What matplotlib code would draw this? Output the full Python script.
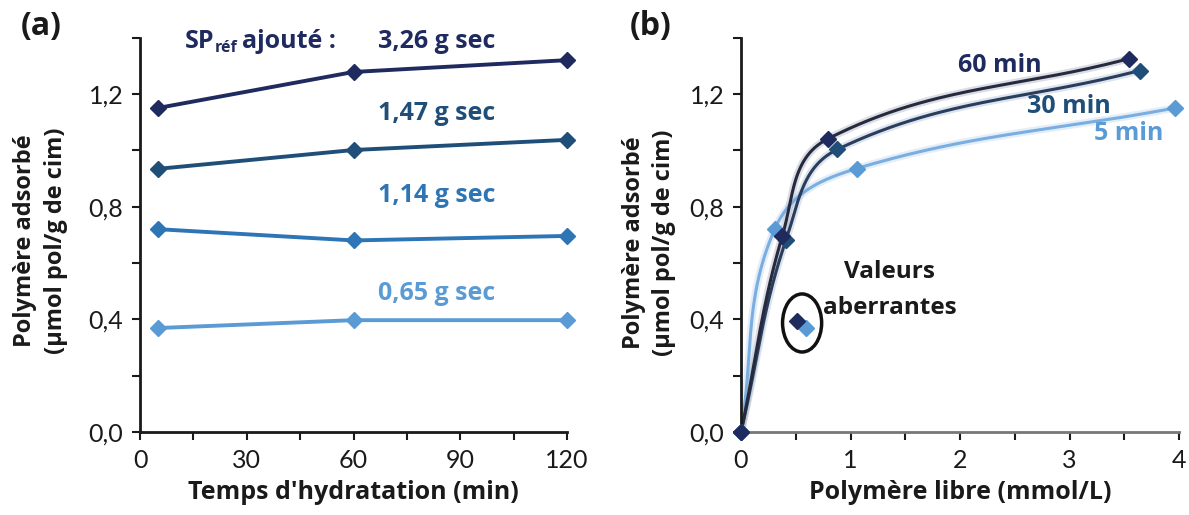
import numpy as np
import matplotlib
matplotlib.use("Agg")
import matplotlib.pyplot as plt
from matplotlib.patches import Ellipse
from matplotlib.ticker import MultipleLocator, FuncFormatter

plt.rcParams['font.family'] = ['Lato', 'DejaVu Sans']
BF = ['Open Sans', 'DejaVu Sans']   # family for the bold labels

# ---------------- data: panel (a) ----------------
temps = [5, 60, 120]
sp_labels = ["3,26 g sec", "1,47 g sec", "1,14 g sec", "0,65 g sec"]
ads_326 = [1.15, 1.278, 1.32]
ads_147 = [0.934, 1.001, 1.037]
ads_114 = [0.72, 0.68, 0.696]
ads_065 = [0.369, 0.397, 0.397]

# ---------------- data: panel (b) ----------------
curve_labels = ["60 min", "30 min", "5 min"]
libre_60 = [0.0, 0.378, 0.79, 3.54]
adsb_60 = [0.0, 0.697, 1.04, 1.325]
libre_30 = [0.0, 0.41, 0.88, 3.64]
adsb_30 = [0.0, 0.68, 1.003, 1.283]
libre_5 = [0.0, 0.31, 1.055, 3.96]
adsb_5 = [0.0, 0.722, 0.935, 1.15]
# outliers ("valeurs aberrantes")
libre_out_60 = [0.512]
adsb_out_60 = [0.394]
libre_out_5 = [0.594]
adsb_out_5 = [0.369]

C_NAVY = '#1f2a5e'
C_DBLUE = '#1f4e79'
C_MBLUE = '#2e75b6'
C_LBLUE = '#5b9bd5'
C_TXT = '#1a1a1a'
FS = 18

fig = plt.figure(figsize=(11.89, 5.15), dpi=100)
axA = fig.add_axes([140/1189, 1-432/515, (567-140)/1189, (432-37.6)/515])
axB = fig.add_axes([741/1189, 1-432/515, (1179-741)/1189, (432-37.6)/515])


def y_fmt(v, pos):
    k = v / 0.4
    if abs(k - round(k)) < 1e-6:
        return f"{v:.1f}".replace('.', ',')
    return ''


def style(ax, xmax, xstep, xlab_step):
    for s in ['top', 'right']:
        ax.spines[s].set_visible(False)
    for s in ['left', 'bottom']:
        ax.spines[s].set_linewidth(2)
        ax.spines[s].set_color(C_TXT)
    ax.set_ylim(0, 1.4)
    ax.set_xlim(0, xmax)
    ax.yaxis.set_major_locator(MultipleLocator(0.2))
    ax.yaxis.set_major_formatter(FuncFormatter(y_fmt))
    ax.xaxis.set_major_locator(MultipleLocator(xstep))

    def x_fmt(v, pos):
        k = v / xlab_step
        if abs(k - round(k)) < 1e-6:
            return f"{int(round(v))}"
        return ''
    ax.xaxis.set_major_formatter(FuncFormatter(x_fmt))
    ax.tick_params(direction='out', length=6, width=1.5, color=C_TXT,
                   labelsize=18, labelcolor=C_TXT, pad=6)
    ax.set_facecolor('none')


# ---------------- panel (a) ----------------
style(axA, 120, 15, 30)
series_a = [(ads_326, C_NAVY), (ads_147, C_DBLUE), (ads_114, C_MBLUE), (ads_065, C_LBLUE)]
for vals, col in series_a:
    axA.plot(temps, vals, color=col, lw=2.8, marker='D', ms=8, mec=col, mfc=col,
             clip_on=False, zorder=3)

lab_pos_a = [(83.5, 1.385), (83.5, 1.132), (83.5, 0.838), (83.5, 0.493)]
for (x, y), txt, (_, col) in zip(lab_pos_a, sp_labels, series_a):
    axA.text(x, y, txt, color=col, fontsize=FS, fontweight='bold', family=BF,
             ha='center', va='center')

t1 = axA.text(12.6, 1.385, "SP", color=C_NAVY, fontsize=FS, fontweight='bold', family=BF,
              ha='left', va='center')
t2 = axA.annotate("réf", xy=(1, 0), xycoords=t1, xytext=(0.5, -1.5), textcoords='offset points',
                  color=C_NAVY, fontsize=11.5, fontweight='bold', family=BF,
                  ha='left', va='bottom')
axA.annotate("ajouté :", xy=(1, 0), xycoords=(t2, t1), xytext=(3, 0), textcoords='offset points',
             color=C_NAVY, fontsize=FS, fontweight='bold', family=BF, ha='left', va='bottom')

axA.set_xlabel("Temps d'hydratation (min)", fontsize=FS, fontweight='bold', family=BF,
               color=C_TXT, labelpad=6)

# ---------------- panel (b) ----------------
style(axB, 4, 0.5, 1)
axB.spines['bottom'].set_color('#777777')


def smooth_display(ax, xs, ys, tension=0.38, n=60):
    """Smooth curve through the points, built in display space."""
    P = ax.transData.transform(np.column_stack([xs, ys]).astype(float))
    m = len(P)
    tang = []
    for i in range(m):
        if i == 0:
            d = P[1] - P[0]
        elif i == m - 1:
            d = P[-1] - P[-2]
        else:
            d = P[i + 1] - P[i - 1]
        tang.append(d / np.linalg.norm(d))
    out = [P[0]]
    t = np.linspace(0, 1, n)[1:, None]
    for i in range(m - 1):
        p1, p2 = P[i], P[i + 1]
        L = np.linalg.norm(p2 - p1) * tension
        c1 = p1 + tang[i] * L
        c2 = p2 - tang[i + 1] * L
        seg = ((1 - t) ** 3) * p1 + 3 * ((1 - t) ** 2) * t * c1 + 3 * (1 - t) * t ** 2 * c2 + t ** 3 * p2
        out.extend(seg)
    D = ax.transData.inverted().transform(np.array(out))
    return D[:, 0], D[:, 1]


curves = [
    (libre_5, adsb_5, '#7aaee0', C_LBLUE, '#bcd6f0'),
    (libre_30, adsb_30, '#2a3d5c', C_DBLUE, '#a9bcd4'),
    (libre_60, adsb_60, '#262a3c', C_NAVY, '#a7aec2'),
]
for xs, ys, lcol, mcol, glow in curves:
    sx, sy = smooth_display(axB, xs, ys)
    axB.plot(sx, sy, color=glow, lw=5.5, alpha=0.4, solid_capstyle='round', zorder=2)
    axB.plot(sx, sy, color=lcol, lw=2.2, solid_capstyle='round', zorder=2.5)
for xs, ys, lcol, mcol, glow in curves:
    axB.plot(xs, ys, ls='none', marker='D', ms=8, mfc=mcol, mec=mcol, clip_on=False, zorder=4)

axB.plot(libre_out_5, adsb_out_5, ls='none', marker='D', ms=8, mfc=C_LBLUE, mec=C_LBLUE, zorder=4)
axB.plot(libre_out_60, adsb_out_60, ls='none', marker='D', ms=8, mfc=C_NAVY, mec=C_NAVY, zorder=4)

axB.add_patch(Ellipse((0.558, 0.387), 0.357, 0.206, fill=False, ec='#111111', lw=2.5, zorder=5))

axB.text(2.36, 1.30, curve_labels[0], color=C_NAVY, fontsize=FS, fontweight='bold', family=BF,
         ha='center', va='center')
axB.text(2.99, 1.156, curve_labels[1], color=C_DBLUE, fontsize=FS, fontweight='bold', family=BF,
         ha='center', va='center')
axB.text(3.54, 1.06, curve_labels[2], color=C_LBLUE, fontsize=FS, fontweight='bold', family=BF,
         ha='center', va='center')
axB.text(1.36, 0.567, "Valeurs", color=C_TXT, fontsize=17.5, fontweight='bold', family=BF,
         ha='center', va='center')
axB.text(1.36, 0.44, "aberrantes", color=C_TXT, fontsize=17.5, fontweight='bold', family=BF,
         ha='center', va='center')

axB.set_xlabel("Polymère libre (mmol/L)", fontsize=FS, fontweight='bold', family=BF,
               color=C_TXT, labelpad=6)

# y labels (two lines, rotated)
for xc1, xc2, yc in [(25, 56, 241), (634, 664, 243)]:
    fig.text(xc1/1189, 1-yc/515, "Polymère adsorbé", rotation=90, fontsize=17,
             fontweight='bold', family=BF, color=C_TXT, ha='center', va='center')
    fig.text(xc2/1189, 1-yc/515, "(µmol pol/g de cim)", rotation=90, fontsize=17,
             fontweight='bold', family=BF, color=C_TXT, ha='center', va='center')

fig.text(41/1189, 1-26/515, "(a)", fontsize=23, fontweight='bold', family=BF, color=C_TXT,
         ha='center', va='center')
fig.text(651/1189, 1-26/515, "(b)", fontsize=23, fontweight='bold', family=BF, color=C_TXT,
         ha='center', va='center')

fig.savefig("out.png", dpi=100)
